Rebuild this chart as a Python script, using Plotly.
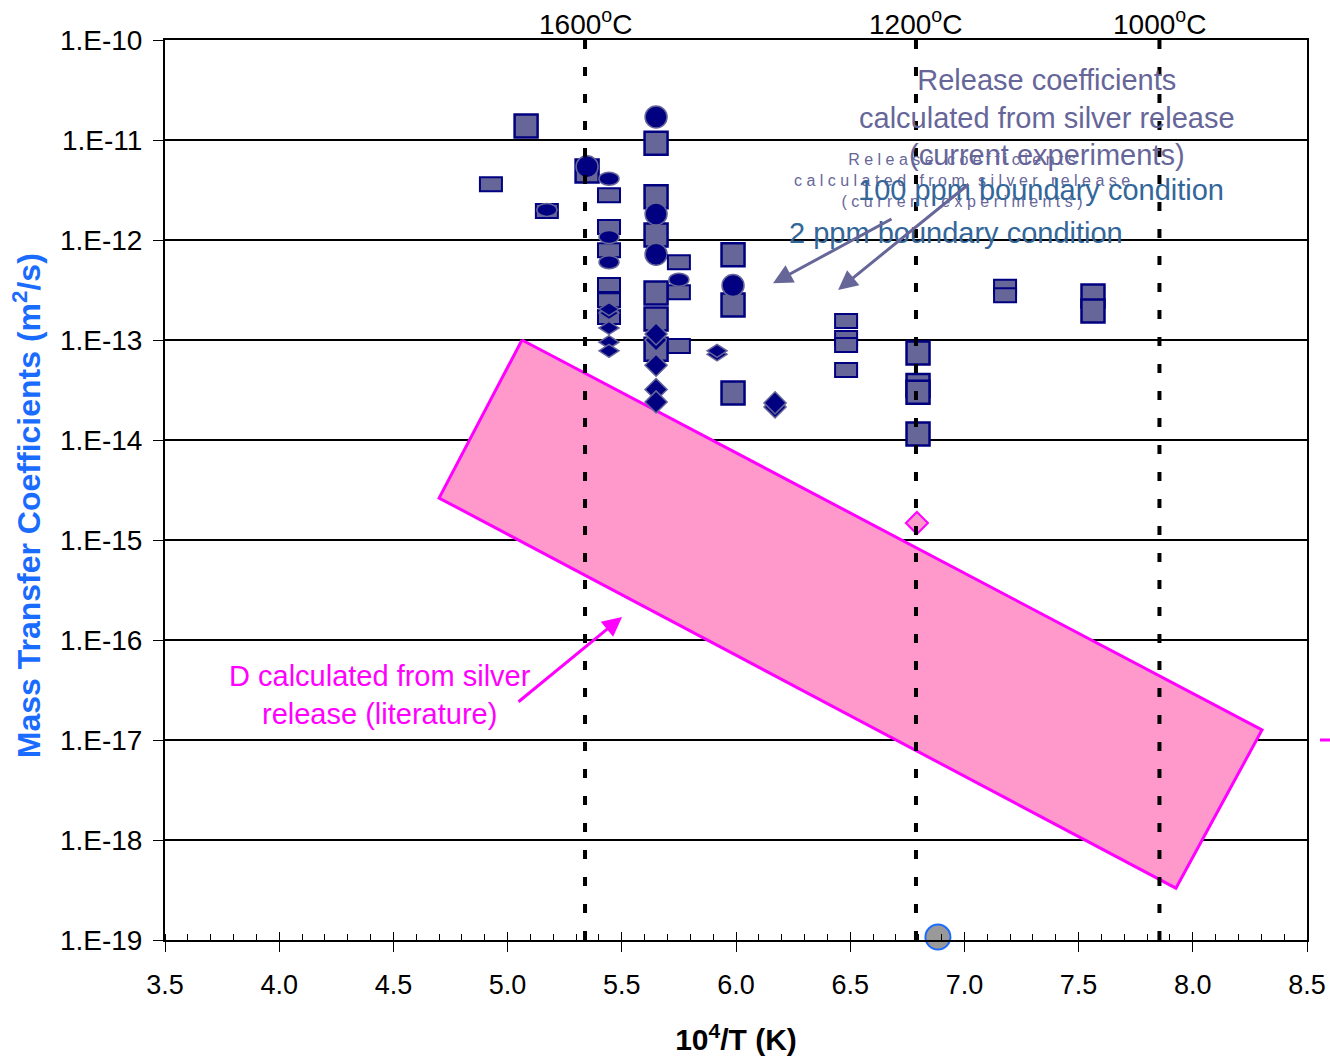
import numpy as np
import plotly.graph_objects as go

FONT = "Arial, 'Liberation Sans', sans-serif"

# Temperature reference lines (10^4/T for 1600, 1200, 1000 degC)
temp_x = [5.339, 6.788, 7.854]
temp_labels = ["1600<sup>o</sup>C", "1200<sup>o</sup>C", "1000<sup>o</sup>C"]

# Release coefficients, current experiments: squares
sq_x = [5.081, 5.650, 5.348, 5.650, 5.650, 5.987, 5.650, 5.987, 5.650, 5.650,
        6.797, 6.797, 6.797, 5.987, 6.797, 7.563, 7.563]
sq_y = [1.38e-11, 9.3e-12, 4.9e-12, 2.7e-12, 1.12e-12, 7.1e-13, 2.95e-13, 2.24e-13, 1.62e-13, 8.1e-14,
        7.4e-14, 3.5e-14, 3.0e-14, 2.95e-14, 1.15e-14, 2.75e-13, 1.95e-13]

# Circles
circ_x = [5.650, 5.348, 5.650, 5.650, 5.987]
circ_y = [1.7e-11, 5.4e-12, 1.82e-12, 7.2e-13, 3.5e-13]

# Diamonds
dia_x = [5.650, 5.650, 5.650, 5.650, 5.650, 6.171, 6.171]
dia_y = [1.0e-13, 1.15e-13, 5.6e-14, 3.2e-14, 2.4e-14, 2.14e-14, 2.35e-14]

# Flat diamonds
fd_x = [5.444, 5.444, 5.444, 5.444, 5.444, 5.917, 5.917]
fd_y = [1.86e-13, 2.04e-13, 1.32e-13, 9.5e-14, 7.8e-14, 7.2e-14, 7.8e-14]

# Flat rectangles
fr_x = [4.927, 5.172, 5.444, 5.444, 5.444, 5.444, 5.444, 5.444, 5.750, 5.750, 5.750,
        6.482, 6.482, 6.482, 6.482, 7.178, 7.178]
fr_y = [3.6e-12, 1.95e-12, 2.8e-12, 1.35e-12, 7.9e-13, 3.55e-13, 2.5e-13, 1.7e-13, 6.0e-13, 3.0e-13, 8.7e-14,
        1.55e-13, 1.05e-13, 8.9e-14, 5.0e-14, 3.4e-13, 2.8e-13]

# Flat ellipses
el_x = [5.444, 5.172, 5.444, 5.444, 5.750]
el_y = [4.1e-12, 2.0e-12, 1.07e-12, 6.0e-13, 4.0e-13]

# Literature band (D calculated from silver release)
band_x = [5.063, 8.303, 7.926, 4.700, 5.063]
band_y = [1.0e-13, 1.26e-17, 3.3e-19, 2.63e-15, 1.0e-13]

# Single points
pink_x, pink_y = [6.792], [1.48e-15]
grey_x, grey_y = [6.884], [1.07e-19]

# Axis ticks
y_tick_vals = [1e-10, 1e-11, 1e-12, 1e-13, 1e-14, 1e-15, 1e-16, 1e-17, 1e-18, 1e-19]
y_tick_text = ["1.E-10", "1.E-11", "1.E-12", "1.E-13", "1.E-14", "1.E-15",
               "1.E-16", "1.E-17", "1.E-18", "1.E-19"]
x_tick_vals = [3.5, 4.0, 4.5, 5.0, 5.5, 6.0, 6.5, 7.0, 7.5, 8.0, 8.5]

SQ_FILL, NAVY = "#666699", "#000080"

fig = go.Figure()

# dotted temperature lines
for xv in temp_x:
    fig.add_trace(go.Scatter(x=[xv, xv], y=[1e-19, 1e-10], mode="lines", xaxis="x2",
                             line=dict(color="black", width=4, dash="9px,18px"),
                             hoverinfo="skip", showlegend=False))

# literature band
fig.add_trace(go.Scatter(x=band_x, y=band_y, mode="lines", fill="toself",
                         fillcolor="#ff99cc", line=dict(color="#ff00ff", width=3),
                         hoverinfo="skip", showlegend=False))

fig.add_trace(go.Scatter(x=sq_x, y=sq_y, mode="markers",
                         marker=dict(symbol="square", size=23, color=SQ_FILL,
                                     line=dict(color=NAVY, width=2.5)),
                         showlegend=False))
fig.add_trace(go.Scatter(x=dia_x, y=dia_y, mode="markers",
                         marker=dict(symbol="diamond", size=17, color=NAVY,
                                     line=dict(color=SQ_FILL, width=1.5)),
                         showlegend=False))
fig.add_trace(go.Scatter(x=circ_x, y=circ_y, mode="markers",
                         marker=dict(symbol="circle", size=22, color=NAVY,
                                     line=dict(color=SQ_FILL, width=1.5)),
                         showlegend=False))
fig.add_trace(go.Scatter(x=pink_x, y=pink_y, mode="markers",
                         marker=dict(symbol="diamond", size=17, color="#ff99cc",
                                     line=dict(color="#ff00ff", width=2)),
                         showlegend=False))
fig.add_trace(go.Scatter(x=grey_x, y=grey_y, mode="markers", cliponaxis=False,
                         marker=dict(symbol="circle", size=25, color="#999999",
                                     line=dict(color="#1a6bff", width=2)),
                         showlegend=False))


def rect_path(hw, hh):
    return f"M {-hw} {-hh} L {hw} {-hh} L {hw} {hh} L {-hw} {hh} Z"


def ellipse_path(a, b):
    k = 0.5523
    return (f"M {-a} 0 C {-a} {k*b:.2f}, {-k*a:.2f} {b}, 0 {b} "
            f"C {k*a:.2f} {b}, {a} {k*b:.2f}, {a} 0 "
            f"C {a} {-k*b:.2f}, {k*a:.2f} {-b}, 0 {-b} "
            f"C {-k*a:.2f} {-b}, {-a} {-k*b:.2f}, {-a} 0 Z")


def diamond_path(a, b):
    return f"M {-a} 0 L 0 {b} L {a} 0 L 0 {-b} Z"


def pix_shape(xv, yv, path, fill, line_col, lw):
    return dict(type="path", xref="x", yref="y", xsizemode="pixel", ysizemode="pixel",
                xanchor=xv, yanchor=yv, path=path, fillcolor=fill,
                line=dict(color=line_col, width=lw), layer="above")


shapes = []
for xv, yv in zip(fr_x, fr_y):
    shapes.append(pix_shape(xv, yv, rect_path(11, 7), SQ_FILL, NAVY, 2))
for xv, yv in zip(el_x, el_y):
    shapes.append(pix_shape(xv, yv, ellipse_path(10, 6.5), NAVY, SQ_FILL, 1.5))
for xv, yv in zip(fd_x, fd_y):
    shapes.append(pix_shape(xv, yv, diamond_path(10, 6.5), NAVY, SQ_FILL, 1.5))

# stray legend key at right edge
shapes.append(dict(type="line", xref="paper", yref="y", x0=1.0114, x1=1.021,
                   y0=1e-17, y1=1e-17, line=dict(color="#ff00ff", width=3)))

annotations = []
for xv, lab in zip(temp_x, temp_labels):
    annotations.append(dict(x=xv, y=1, xref="x", yref="paper", text=lab, showarrow=False,
                            xanchor="center", yanchor="middle", yshift=18,
                            font=dict(family=FONT, size=28, color="black")))

lg = np.log10
annotations += [
    # y-axis title
    dict(x=-0.1208, y=0.482, xref="paper", yref="paper", textangle=-90, showarrow=False,
         text="<b>Mass Transfer Coefficients (m<sup>2</sup>/s)</b>", xanchor="center", yanchor="middle",
         font=dict(family=FONT, size=32, color="#1a6bff")),
    dict(x=7.362, y=lg(1.66e-11), text="Release coefficients<br>calculated from silver release<br>(current experiments)",
         showarrow=False, font=dict(family=FONT, size=29, color="#666699"), xanchor="center", yanchor="middle"),
    dict(x=6.990, y=lg(3.98e-12),
         text="R e l e a s e   c o e f f i c i e n t s<br>c a l c u l a t e d   f r o m   s i l v e r   r e l e a s e<br>( c u r r e n t   e x p e r i m e n t s )",
         showarrow=False, font=dict(family=FONT, size=16, color="#666699"), xanchor="center", yanchor="middle"),
    dict(x=7.335, y=lg(3.16e-12), text="100 ppm boundary condition", showarrow=False,
         font=dict(family=FONT, size=29, color="#336699"), xanchor="center", yanchor="middle"),
    dict(x=6.963, y=lg(1.17e-12), text="2 ppm boundary condition", showarrow=False,
         font=dict(family=FONT, size=29, color="#336699"), xanchor="center", yanchor="middle"),
    dict(x=4.441, y=lg(2.82e-17), text="D calculated from silver<br>release (literature)", showarrow=False,
         font=dict(family=FONT, size=29, color="#ff00ff"), xanchor="center", yanchor="middle"),
    # arrows
    dict(x=6.162, y=lg(3.7e-13), ax=120, ay=-65, text="", showarrow=True, arrowhead=2,
         arrowsize=1.3, arrowwidth=3, arrowcolor="#666699"),
    dict(x=6.447, y=lg(3.16e-13), ax=132, ay=-107, text="", showarrow=True, arrowhead=2,
         arrowsize=1.3, arrowwidth=3, arrowcolor="#666699"),
    dict(x=5.501, y=lg(1.7e-16), ax=-105, ay=86, text="", showarrow=True, arrowhead=2,
         arrowsize=1.3, arrowwidth=3, arrowcolor="#ff00ff"),
]

fig.update_layout(
    width=1330, height=1058,
    margin=dict(l=165, r=23, t=40, b=118),
    paper_bgcolor="white", plot_bgcolor="white",
    showlegend=False,
    shapes=shapes, annotations=annotations,
    font=dict(family=FONT, color="black"),
    xaxis=dict(range=[3.5, 8.5], tickvals=x_tick_vals, tickformat=".1f", automargin=False,
               ticks="outside", ticklen=10, tickwidth=1, tickcolor="black",
               minor=dict(dtick=0.1, tick0=3.5, ticks="inside", ticklen=6, tickwidth=1, tickcolor="black", showgrid=False),
               showgrid=False, zeroline=False, showline=True, linecolor="black", linewidth=2, mirror=True,
               tickfont=dict(family=FONT, size=27, color="black"), ticklabelstandoff=10,
               title=dict(text="<b>10<sup>4</sup>/T (K)</b>", font=dict(family=FONT, size=30, color="black"), standoff=30)),
    xaxis2=dict(range=[3.5, 8.5], overlaying="x", anchor="y", side="bottom", tickvals=x_tick_vals,
                automargin=False, ticks="inside", ticklen=8, tickwidth=1, tickcolor="black", showticklabels=False,
                showgrid=False, zeroline=False, showline=False),
    yaxis=dict(type="log", range=[-19, -10], tickvals=y_tick_vals, ticktext=y_tick_text, automargin=False,
               ticks="outside", ticklen=10, tickwidth=1, tickcolor="black",
               showgrid=True, gridcolor="black", gridwidth=2, zeroline=False,
               showline=True, linecolor="black", linewidth=2, mirror=True,
               tickfont=dict(family=FONT, size=28, color="black"), ticklabelstandoff=5),
)

fig.write_html("out.html")
